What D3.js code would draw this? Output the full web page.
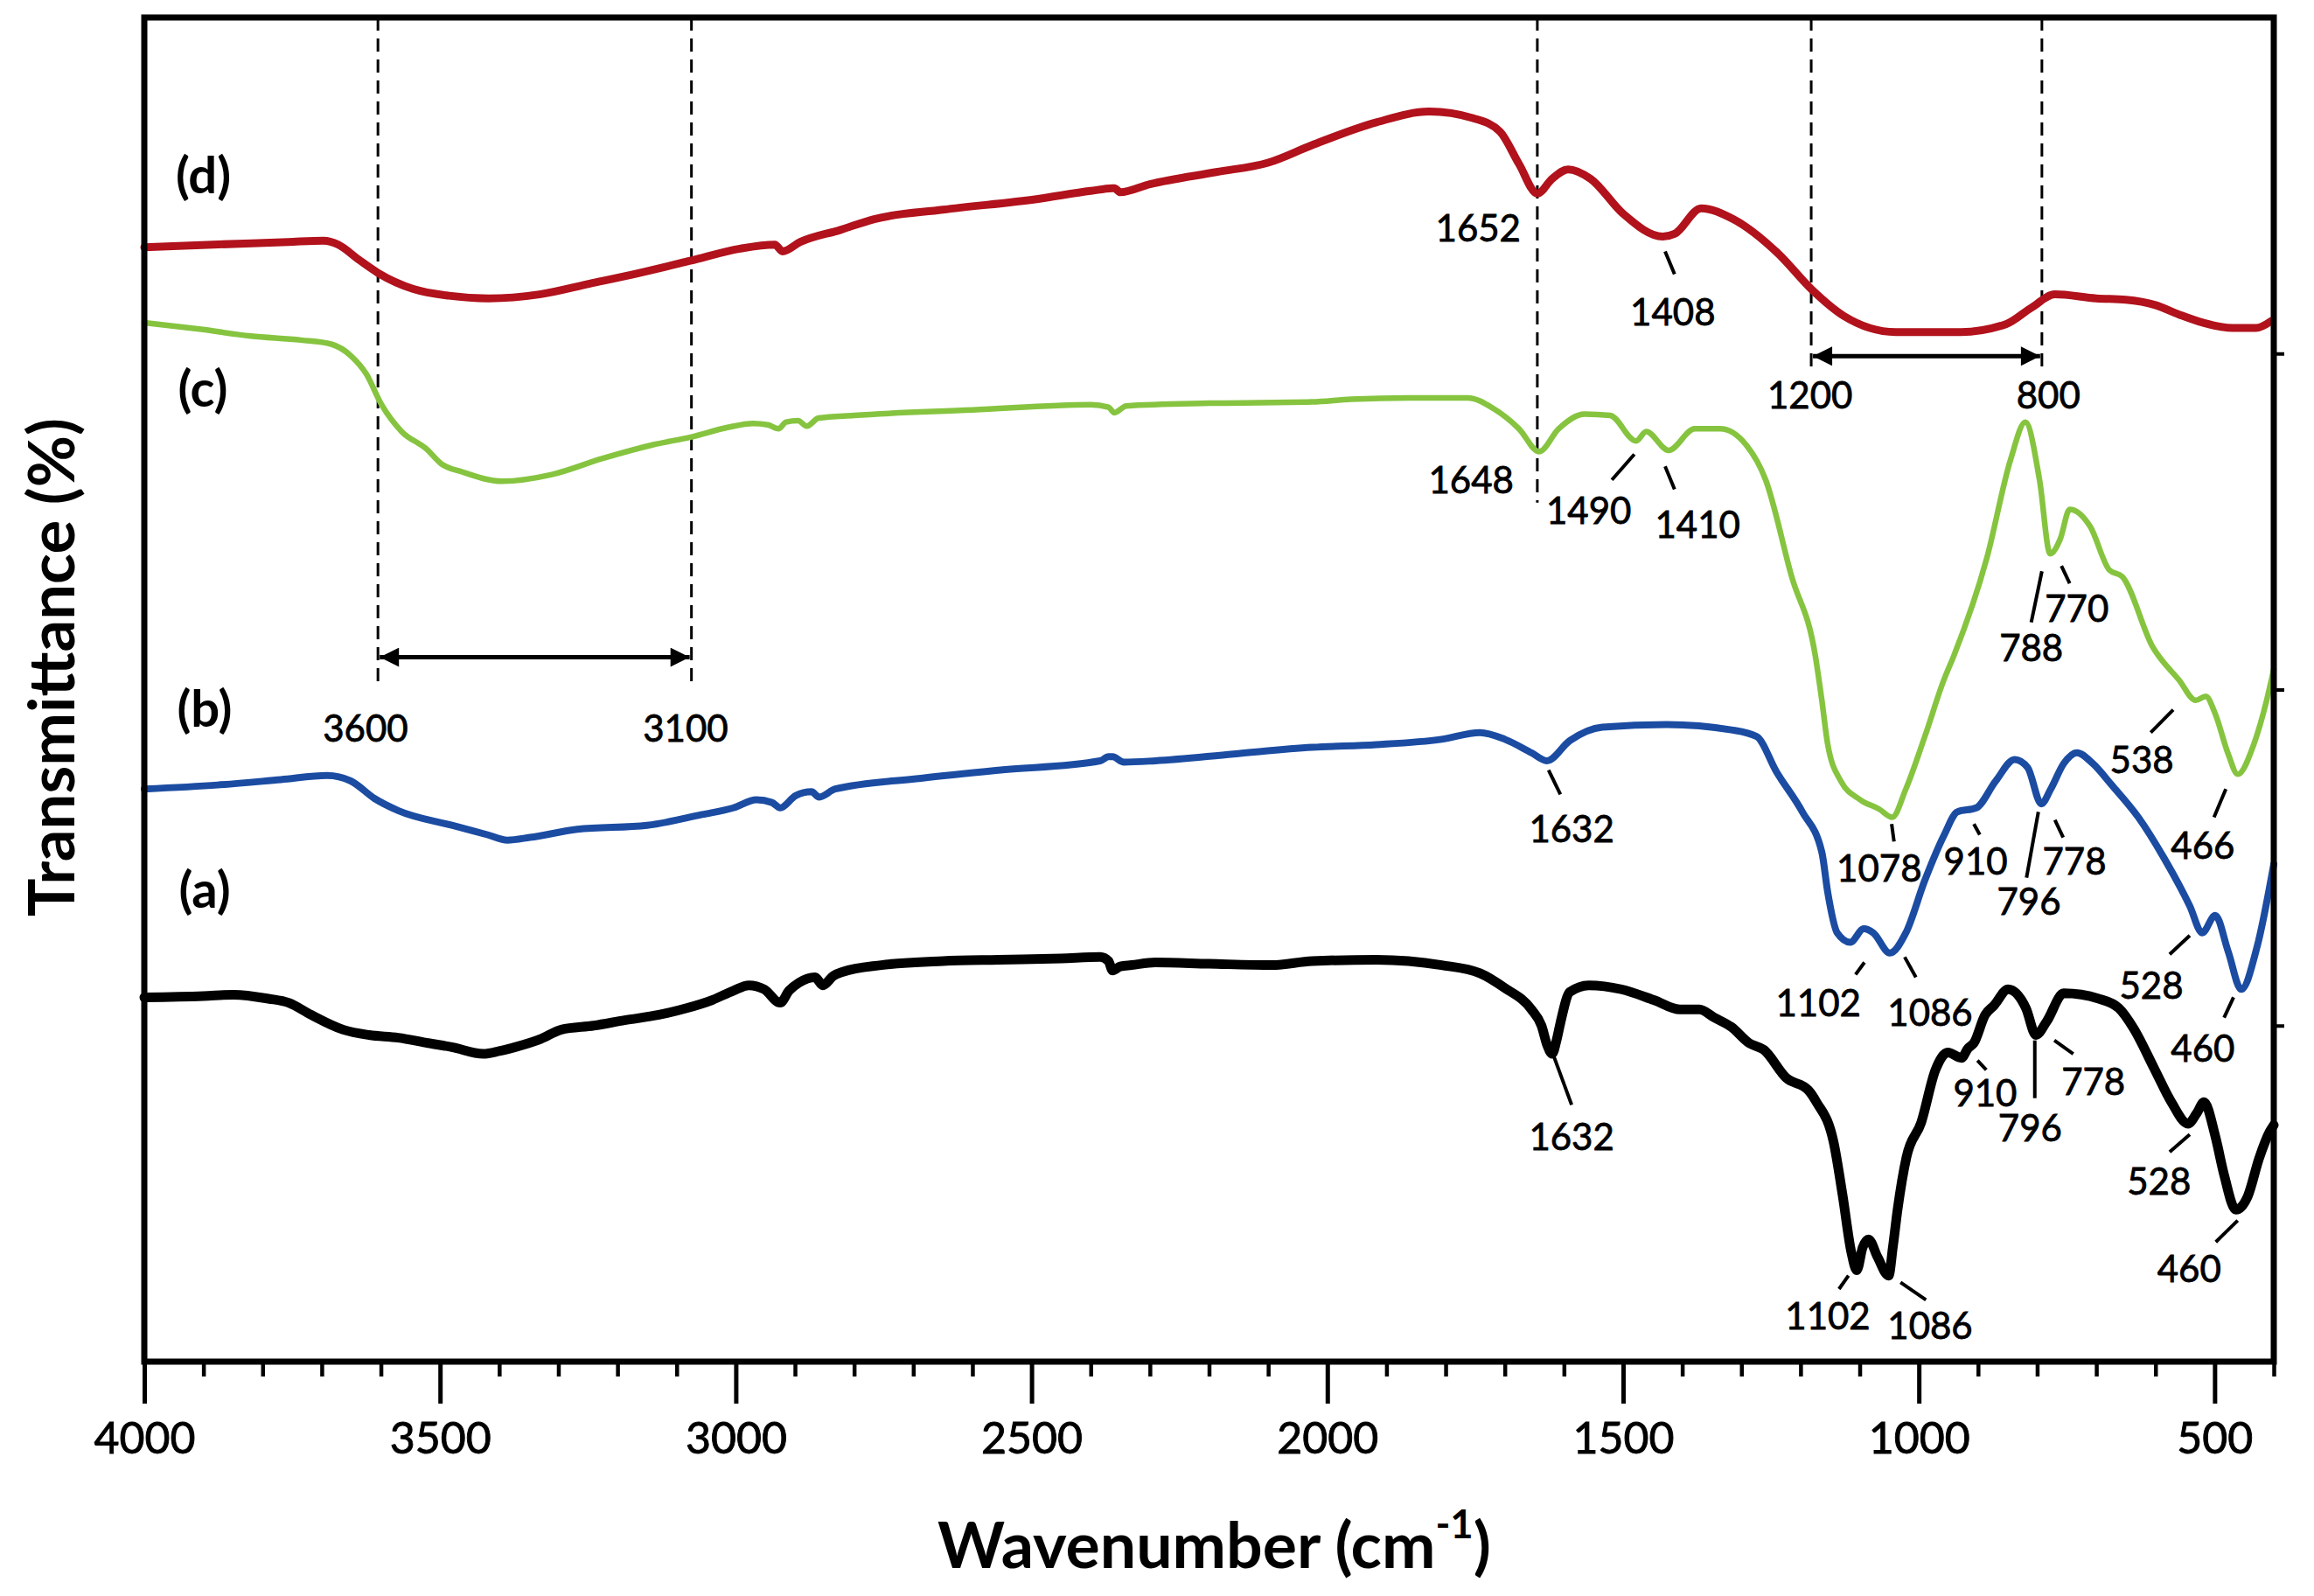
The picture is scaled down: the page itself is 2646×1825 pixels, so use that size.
<!DOCTYPE html>
<html><head><meta charset="utf-8">
<script src="https://cdn.jsdelivr.net/npm/d3@7"></script>
<style>html,body{margin:0;padding:0;background:#fff;} svg{display:block;}</style>
</head><body>
<svg id="chart" width="2646" height="1825"></svg>
<script>
// ---------- DATA (wavenumber cm-1, transmittance a.u. with vertical offsets) ----------
const seriesNames = ["(a)", "(b)", "(c)", "(d)"];

const spectrumA = [ // black
[4000,27.1],[3900,27.2],[3849,27.3],[3790,27.0],[3756,26.7],[3718,25.8],[3664,24.7],[3620,24.3],[3571,24.1],[3520,23.7],[3480,23.4],[3427,22.9],[3400,23.1],[3373,23.4],[3330,24.0],[3295,24.7],[3240,25.0],[3188,25.4],[3130,25.8],[3083,26.3],[3040,26.9],[3004,27.6],[2978,28.0],[2952,27.7],[2925,26.7],[2910,27.6],[2893,28.2],[2866,28.6],[2853,28.0],[2835,28.7],[2819,29.0],[2754,29.5],[2650,29.8],[2556,29.9],[2450,30.0],[2384,30.1],[2370,29.8],[2363,29.1],[2350,29.4],[2331,29.5],[2291,29.7],[2200,29.6],[2093,29.5],[2026,29.8],[1917,29.9],[1807,29.5],[1742,28.9],[1700,27.8],[1655,26.2],[1638,25.0],[1628,23.5],[1620,22.9],[1612,24.0],[1606,25.2],[1590,27.5],[1558,28.0],[1503,27.7],[1448,26.9],[1404,26.2],[1371,26.2],[1346,25.6],[1317,24.9],[1287,23.7],[1262,23.2],[1224,21.1],[1187,20.2],[1173,19.3],[1144,16.3],[1129,12.4],[1114,8.1],[1105,6.8],[1095,8.5],[1085,9.1],[1070,7.8],[1051,6.4],[1044,8.5],[1036,11.3],[1021,15.2],[996,17.8],[972,21.7],[951,23.0],[928,22.6],[917,23.3],[907,23.7],[888,25.8],[873,26.5],[849,27.7],[819,26.3],[802,24.3],[784,25.3],[755,27.4],[696,27.0],[662,26.3],[637,24.8],[602,21.8],[573,19.3],[545,17.7],[530,18.5],[518,19.3],[499,16.8],[484,13.9],[464,11.3],[444,12.3],[425,15.1],[407,17.1],[400,17.6]
];

const spectrumB = [ // blue
[4000,42.6],[3876,42.9],[3769,43.3],[3691,43.6],[3651,43.2],[3611,41.9],[3571,41.0],[3480,39.9],[3420,39.2],[3386,38.8],[3348,39.0],[3268,39.6],[3150,39.9],[3057,40.7],[3004,41.2],[2965,41.8],[2939,41.6],[2925,41.2],[2899,42.1],[2872,42.4],[2859,42.0],[2832,42.6],[2687,43.4],[2556,44.0],[2384,44.7],[2370,45.0],[2363,45.0],[2344,44.6],[2291,44.7],[2159,45.2],[2026,45.7],[1917,45.9],[1807,46.3],[1742,46.8],[1700,46.3],[1655,45.3],[1629,44.7],[1590,46.2],[1535,47.2],[1426,47.4],[1317,47.0],[1274,46.5],[1241,43.9],[1197,40.9],[1164,37.9],[1154,34.9],[1138,31.9],[1116,31.2],[1093,32.2],[1077,31.9],[1049,30.4],[1022,31.9],[990,35.8],[957,39.2],[935,40.9],[903,41.2],[870,43.2],[838,44.8],[816,44.2],[793,41.5],[777,42.6],[755,44.5],[733,45.3],[706,44.5],[674,42.9],[629,40.5],[586,37.5],[542,33.9],[521,31.9],[499,33.2],[477,30.5],[455,27.7],[428,30.9],[400,37.0]
];

const spectrumC = [ // green
[4000,77.3],[3904,76.8],[3820,76.3],[3735,76.0],[3684,75.7],[3650,74.8],[3625,73.5],[3599,71.2],[3565,69.2],[3523,67.9],[3498,66.8],[3463,66.2],[3395,65.5],[3311,66.0],[3225,67.2],[3141,68.2],[3075,68.8],[3014,69.5],[2971,69.8],[2946,69.7],[2928,69.4],[2915,69.9],[2895,70.0],[2880,69.6],[2860,70.2],[2800,70.4],[2600,70.8],[2400,71.2],[2370,71.0],[2360,70.6],[2340,71.1],[2200,71.3],[2026,71.4],[1960,71.6],[1862,71.7],[1763,71.7],[1719,70.9],[1676,69.4],[1642,67.7],[1609,69.4],[1565,70.5],[1522,70.4],[1478,68.5],[1461,69.2],[1423,67.8],[1379,69.4],[1336,69.4],[1292,68.2],[1259,65.6],[1215,58.4],[1175,52.5],[1164,49.2],[1154,45.9],[1132,43.2],[1099,41.8],[1067,41.1],[1045,40.5],[1022,42.6],[990,46.5],[957,50.8],[941,52.5],[885,59.8],[845,67.1],[820,69.9],[796,65.6],[778,60.1],[761,61.2],[745,63.4],[710,62.1],[678,58.9],[656,58.4],[605,53.2],[560,50.7],[532,49.2],[515,49.5],[499,48.2],[477,45.2],[461,43.7],[434,45.9],[412,49.2],[400,51.5]
];

const spectrumD = [ // red
[4000,82.9],[3884,83.1],[3757,83.3],[3697,83.4],[3672,83.1],[3638,82.0],[3605,81.0],[3545,79.8],[3485,79.3],[3418,79.1],[3332,79.4],[3247,80.2],[3163,81.0],[3077,81.9],[2993,82.8],[2934,83.1],[2921,82.6],[2891,83.3],[2823,84.2],[2766,85.0],[2650,85.7],[2489,86.5],[2400,87.1],[2360,87.3],[2350,87.0],[2300,87.6],[2188,88.5],[2100,89.2],[2026,90.5],[1917,92.2],[1828,93.0],[1753,92.5],[1708,91.5],[1676,89.1],[1645,86.9],[1620,88.0],[1593,88.7],[1555,88.0],[1500,85.4],[1433,83.7],[1413,83.9],[1368,85.8],[1314,85.0],[1237,82.4],[1182,79.8],[1127,77.8],[1039,76.6],[929,76.6],[852,77.2],[810,78.4],[770,79.4],[700,79.1],[650,79.0],[600,78.6],[560,77.9],[520,77.3],[470,76.9],[430,76.9],[405,77.4]
];

const xMajorTicks = [4000, 3500, 3000, 2500, 2000, 1500, 1000, 500];
const xMinorTicks = [3900,3800,3700,3600,3400,3300,3200,3100,2900,2800,2700,2600,2400,2300,2200,2100,1900,1800,1700,1600,1400,1300,1200,1100,900,800,700,600,400];
const yRightTicks = [25, 50, 75];

// series label anchors (wavenumber, value)
const seriesLabelPos = [[3898,35.1],[3898,48.6],[3901,72.4],[3900,88.3]];

// vertical dashed guides: [wavenumber, lower end value]
const guides = [[3605,50.6],[3075,50.6],[1645,63.9],[1182,74.0],[792,74.0]];
// range arrows: [from, to, value]
const rangeArrows = [[3605,3075,52.4],[1182,792,74.8]];
const rangeLabels = [["3600",3626,47.1],["3100",3085,47.1],["1200",1184,71.9],["800",781,71.9]];

// peak labels: [text, w, v, leader w1, v1, w2, v2]
const peakLabels = [
["1652",1745,84.3],
["1408",1416,78.1,1429,82.6,1413,80.9],
["1648",1757,65.6],
["1490",1558,63.3,1481,67.5,1519,65.6],
["1410",1374,62.3,1429,66.6,1413,64.9],
["770",733,56.0,759,59.2,745,57.9],
["788",810,53.1,792,58.8,810,55.0],
["538",623,44.8,570,48.5,608,46.8],
["466",520,38.4,481,42.6,501,40.5],
["1078",1067,36.7,1046,40.0,1042,38.7],
["1632",1587,39.6,1626,44.0,1606,42.2],
["910",904,37.2,907,40.0,897,39.2],
["778",737,37.2,770,40.3,756,39.0],
["796",814,34.2,798,40.9,818,36.0],
["1102",1170,26.7,1092,29.7,1107,28.8],
["1086",981,26.0,1024,30.1,1005,28.6],
["528",607,28.0,542,31.7,576,30.3],
["460",520,23.3,468,27.1,484,25.6],
["1632",1587,16.7,1617,22.7,1587,19.1],
["910",888,20.0,901,22.4,886,21.7],
["796",812,17.4,804,23.9,804,19.6],
["778",705,20.8,771,23.9,739,22.9],
["528",594,13.4,542,16.9,576,15.6],
["460",543,6.9,461,10.5,498,8.9],
["1102",1154,3.4,1119,6.4,1135,5.4],
["1086",981,2.7,1031,5.9,988,4.6]
];

// ---------- DRAWING ----------
const W = 2646, H = 1825;
const M = {left:165, right:2600, top:20, bottom:1557};
const FONT = 'Lato, "Open Sans", "DejaVu Sans", sans-serif';
const x = d3.scaleLinear().domain([4000, 400]).range([M.left, M.right]);
const y = d3.scaleLinear().domain([0, 100]).range([M.bottom, M.top]);
const svg = d3.select('#chart');

svg.append('rect').attr('width', W).attr('height', H).attr('fill', '#fff');

// guides
svg.append('g').selectAll('line').data(guides).join('line')
  .attr('x1', d => x(d[0])).attr('x2', d => x(d[0]))
  .attr('y1', y(100)).attr('y2', d => y(d[1]))
  .attr('stroke', '#000').attr('stroke-width', 3).attr('stroke-dasharray', '15,9');

// arrow marker
svg.append('defs').append('marker')
  .attr('id', 'ah').attr('viewBox', '0 0 10 10').attr('refX', 10).attr('refY', 5)
  .attr('markerWidth', 26).attr('markerHeight', 22).attr('markerUnits', 'userSpaceOnUse')
  .attr('orient', 'auto-start-reverse')
  .append('path').attr('d', 'M0,0L10,5L0,10z').attr('fill', '#000');

svg.append('g').selectAll('line').data(rangeArrows).join('line')
  .attr('x1', d => x(d[0]) + 2).attr('x2', d => x(d[1]) - 2)
  .attr('y1', d => y(d[2])).attr('y2', d => y(d[2]))
  .attr('stroke', '#000').attr('stroke-width', 5)
  .attr('marker-start', 'url(#ah)').attr('marker-end', 'url(#ah)');

// curves
const line = d3.line().x(d => x(d[0])).y(d => y(d[1])).curve(d3.curveMonotoneX);
const curves = [
  {data: spectrumA, color: '#000000', width: 11},
  {data: spectrumB, color: '#1b4ca2', width: 8},
  {data: spectrumC, color: '#86c440', width: 6.5},
  {data: spectrumD, color: '#b1121c', width: 9}
];
svg.append('g').selectAll('path').data(curves).join('path')
  .attr('d', d => line(d.data)).attr('fill', 'none')
  .attr('stroke', d => d.color).attr('stroke-width', d => d.width)
  .attr('stroke-linejoin', 'round').attr('stroke-linecap', 'round');

// axes ticks
const gMinor = svg.append('g').attr('transform', `translate(0,${M.bottom})`)
  .call(d3.axisBottom(x).tickValues(xMinorTicks).tickSize(17).tickFormat(''));
gMinor.select('.domain').remove();
gMinor.selectAll('line').attr('stroke', '#000').attr('stroke-width', 4.5);

const gMajor = svg.append('g').attr('transform', `translate(0,${M.bottom})`)
  .call(d3.axisBottom(x).tickValues(xMajorTicks).tickSize(48).tickFormat(d3.format('d')));
gMajor.select('.domain').remove();
gMajor.selectAll('line').attr('stroke', '#000').attr('stroke-width', 5);
gMajor.selectAll('text').attr('y', 105).attr('dy', 0)
  .attr('font-family', FONT).attr('font-size', 50).attr('fill', '#000')
  .attr('stroke', '#000').attr('stroke-width', 0.9);

const gRight = svg.append('g').attr('transform', `translate(${M.right},0)`)
  .call(d3.axisRight(y).tickValues(yRightTicks).tickSize(12).tickFormat(''));
gRight.select('.domain').remove();
gRight.selectAll('line').attr('stroke', '#000').attr('stroke-width', 4);

// frame
svg.append('rect').attr('x', M.left).attr('y', M.top)
  .attr('width', M.right - M.left).attr('height', M.bottom - M.top)
  .attr('fill', 'none').attr('stroke', '#000').attr('stroke-width', 7);

// leader lines
svg.append('g').selectAll('line').data(peakLabels.filter(d => d.length > 3)).join('line')
  .attr('x1', d => x(d[3])).attr('y1', d => y(d[4]))
  .attr('x2', d => x(d[5])).attr('y2', d => y(d[6]))
  .attr('stroke', '#000').attr('stroke-width', 4);

// peak labels
svg.append('g').selectAll('text').data(peakLabels).join('text')
  .attr('x', d => x(d[1])).attr('y', d => y(d[2])).attr('dy', '0.36em')
  .attr('text-anchor', 'middle').attr('font-family', FONT).attr('font-size', 42)
  .attr('fill', '#000').attr('stroke', '#000').attr('stroke-width', 0.8).text(d => d[0]);

svg.append('g').selectAll('text').data(rangeLabels).join('text')
  .attr('x', d => x(d[1])).attr('y', d => y(d[2])).attr('dy', '0.36em')
  .attr('text-anchor', 'middle').attr('font-family', FONT).attr('font-size', 42)
  .attr('fill', '#000').attr('stroke', '#000').attr('stroke-width', 0.8).text(d => d[0]);

// series labels
svg.append('g').selectAll('text').data(seriesNames).join('text')
  .attr('x', (d, i) => x(seriesLabelPos[i][0])).attr('y', (d, i) => y(seriesLabelPos[i][1]))
  .attr('dy', '0.36em').attr('text-anchor', 'middle')
  .attr('font-family', FONT).attr('font-weight', 700).attr('font-size', 58)
  .attr('fill', '#000').text(d => d);

function fit(sel, target) {
  const w = sel.node().getComputedTextLength();
  const fs = parseFloat(sel.attr('font-size'));
  if (w > 0) sel.attr('font-size', fs * target / w);
}

// axis titles
const xt = svg.append('text').attr('x', (M.left + M.right) / 2 + 6).attr('y', 1793)
  .attr('text-anchor', 'middle').attr('font-family', FONT).attr('font-weight', 700)
  .attr('font-size', 62).attr('fill', '#000');
xt.append('tspan').text('Wavenumber (cm');
xt.append('tspan').attr('font-size', '0.62em').attr('dy', '-0.75em').text('-1');
xt.append('tspan').attr('dy', '0.47em').text(')');
fit(xt, 633);

const yt = svg.append('text').attr('transform', 'translate(59,763) rotate(-90)')
  .attr('text-anchor', 'middle').attr('dy', '0.36em').attr('font-family', FONT).attr('font-weight', 700)
  .attr('font-size', 62).attr('fill', '#000').text('Transmittance (%)');
fit(yt, 570);
</script>
</body></html>
